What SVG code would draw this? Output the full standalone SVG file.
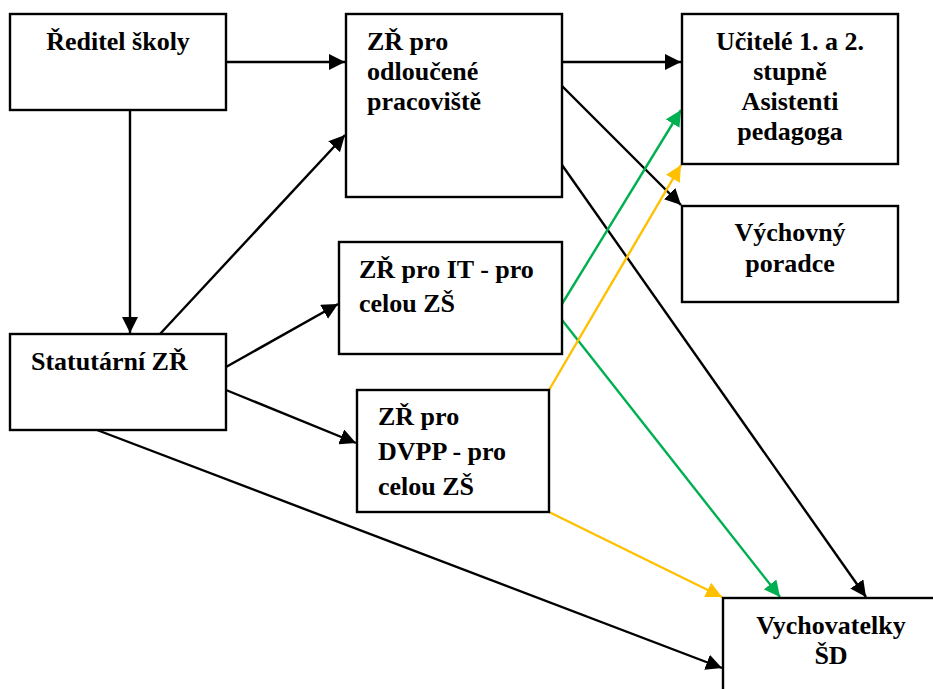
<svg xmlns="http://www.w3.org/2000/svg" width="933" height="689" viewBox="0 0 933 689">
<style>
.box{fill:#fff;stroke:#000;stroke-width:2.4}
text{font-family:'Liberation Serif','Tinos','DejaVu Serif',serif;font-weight:700;font-size:26px;fill:#000}
.c{text-anchor:middle}
.k{stroke:#000;stroke-width:2.4;fill:none}
.g{stroke:#00B050;stroke-width:2.4;fill:none}
.y{stroke:#FFC000;stroke-width:2.4;fill:none}
</style>
<defs>
<marker id="ak" markerUnits="userSpaceOnUse" markerWidth="17" markerHeight="16" refX="16" refY="8" orient="auto"><path d="M0,0 L16,8 L0,16 z" fill="#000"/></marker>
<marker id="ag" markerUnits="userSpaceOnUse" markerWidth="17" markerHeight="16" refX="16" refY="8" orient="auto"><path d="M0,0 L16,8 L0,16 z" fill="#00B050"/></marker>
<marker id="ay" markerUnits="userSpaceOnUse" markerWidth="17" markerHeight="16" refX="16" refY="8" orient="auto"><path d="M0,0 L16,8 L0,16 z" fill="#FFC000"/></marker>
</defs>
<rect width="933" height="689" fill="#fff"/>
<g id="connectors">
<line class="k" x1="226" y1="62" x2="345" y2="62" marker-end="url(#ak)"/>
<line class="k" x1="130" y1="110" x2="130" y2="333" marker-end="url(#ak)"/>
<line class="k" x1="160" y1="334" x2="345" y2="135" marker-end="url(#ak)"/>
<line class="k" x1="226" y1="367" x2="338" y2="304" marker-end="url(#ak)"/>
<line class="k" x1="226" y1="390" x2="356" y2="443" marker-end="url(#ak)"/>
<line class="k" x1="97" y1="430" x2="722" y2="668" marker-end="url(#ak)"/>
<line class="k" x1="562" y1="62" x2="681" y2="62" marker-end="url(#ak)"/>
<line class="k" x1="562" y1="86" x2="681" y2="205" marker-end="url(#ak)"/>
<line class="k" x1="562" y1="165" x2="866" y2="597" marker-end="url(#ak)"/>
<line class="g" x1="562" y1="304" x2="681" y2="110" marker-end="url(#ag)"/>
<line class="g" x1="562" y1="320" x2="780" y2="597" marker-end="url(#ag)"/>
<line class="y" x1="549" y1="390" x2="681" y2="165" marker-end="url(#ay)"/>
<line class="y" x1="549" y1="512" x2="722" y2="597" marker-end="url(#ay)"/>
</g>
<g id="reditel">
<rect class="box" x="10" y="14" width="216" height="96"/>
<text class="c" x="118" y="50">Ředitel školy</text>
</g>
<g id="zr-odl">
<rect class="box" x="346" y="14" width="216" height="183"/>
<text x="367" y="50">ZŘ pro</text>
<text x="367" y="80">odloučené</text>
<text x="367" y="110">pracoviště</text>
</g>
<g id="ucitele">
<rect class="box" x="682" y="14" width="216" height="150"/>
<text class="c" x="790" y="50">Učitelé 1. a 2.</text>
<text class="c" x="790" y="80">stupně</text>
<text class="c" x="790" y="110">Asistenti</text>
<text class="c" x="790" y="140">pedagoga</text>
</g>
<g id="vychovny">
<rect class="box" x="682" y="206" width="216" height="96"/>
<text class="c" x="790" y="241">Výchovný</text>
<text class="c" x="790" y="272">poradce</text>
</g>
<g id="zr-it">
<rect class="box" x="339" y="242" width="223" height="112"/>
<text x="359" y="278">ZŘ pro IT - pro</text>
<text x="359" y="312">celou ZŠ</text>
</g>
<g id="statutarni">
<rect class="box" x="10" y="334" width="216" height="96"/>
<text x="31" y="370">Statutární ZŘ</text>
</g>
<g id="zr-dvpp">
<rect class="box" x="357" y="390" width="192" height="122"/>
<text x="378" y="425">ZŘ pro</text>
<text x="378" y="460">DVPP - pro</text>
<text x="378" y="495">celou ZŠ</text>
</g>
<g id="vychovatelky">
<rect class="box" x="723" y="598" width="216" height="110"/>
<text class="c" x="831" y="634">Vychovatelky</text>
<text class="c" x="831" y="664">ŠD</text>
</g>
</svg>
